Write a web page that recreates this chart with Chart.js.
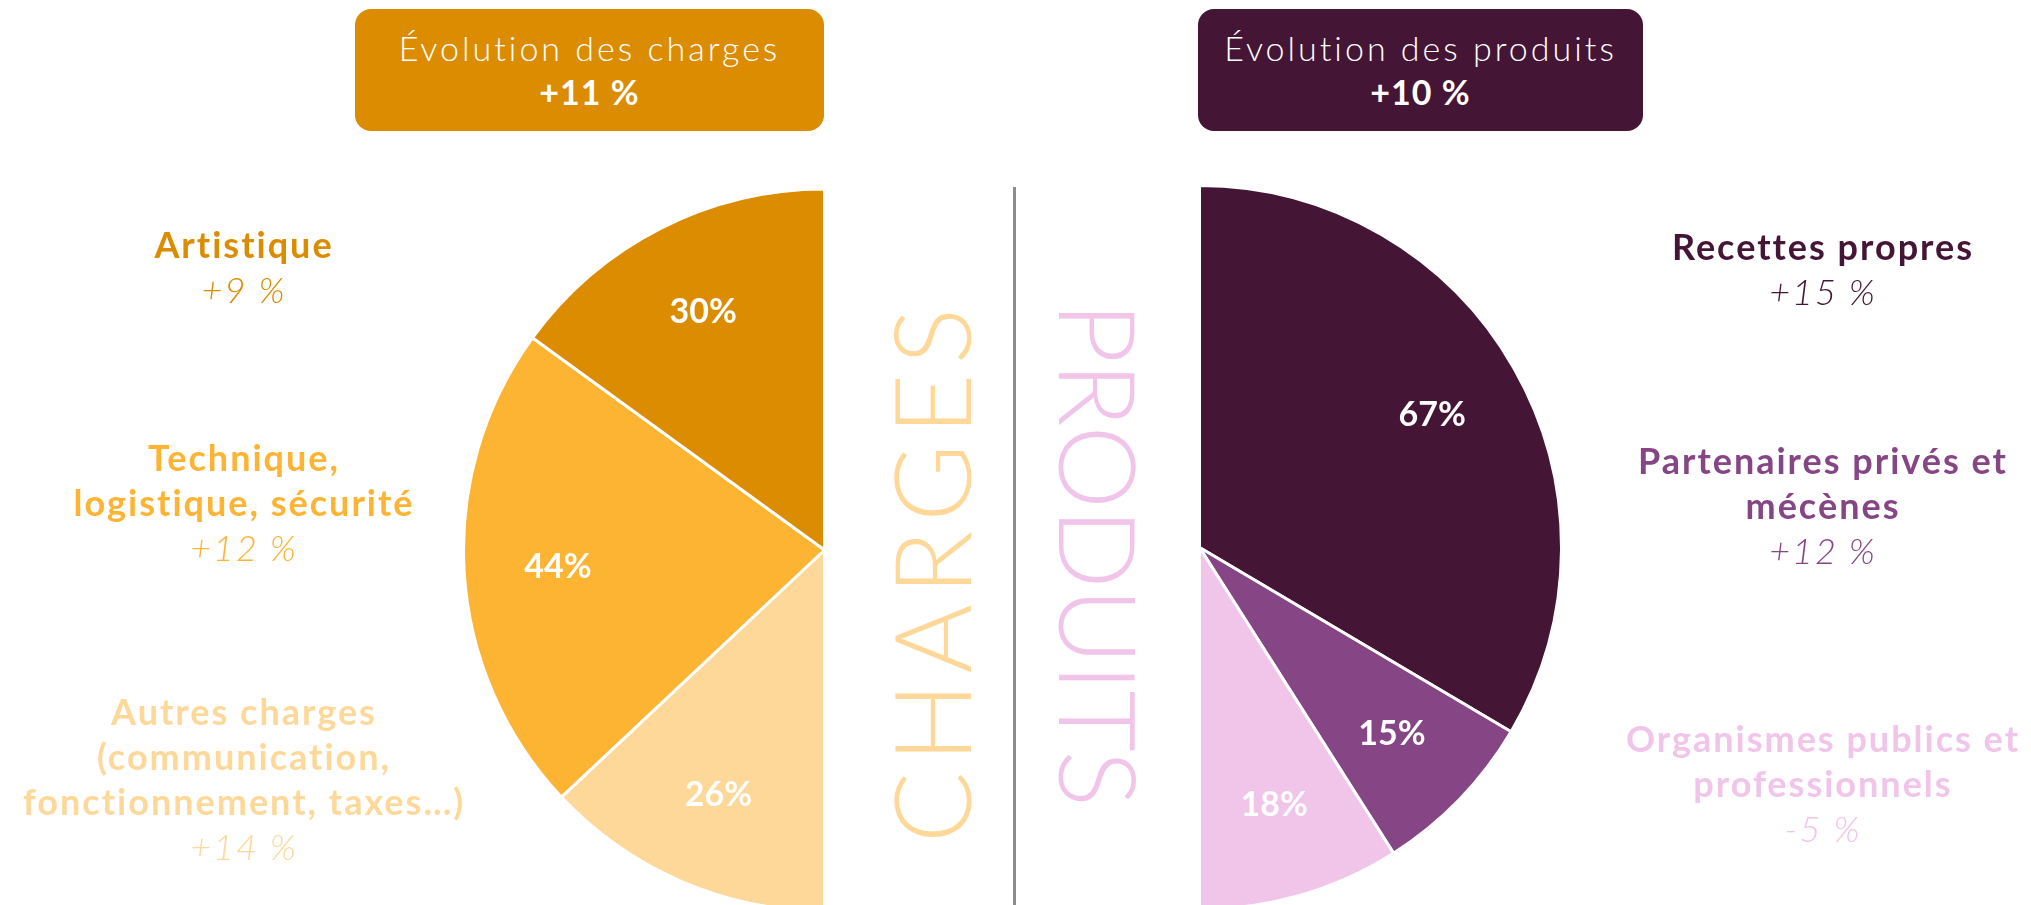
<!DOCTYPE html>
<html lang="fr">
<head>
<meta charset="utf-8">
<title>Charges et produits</title>
<script src="https://cdn.jsdelivr.net/npm/chart.js@4.4.0/dist/chart.umd.min.js"></script>
<style>
    html, body {
        margin: 0;
        padding: 0;
        background: #fff;
    }
    body {
        width: 2031px;
        height: 905px;
        overflow: hidden;
        position: relative;
        font-family: Lato, "Open Sans", sans-serif;
    }
    .box {
        position: absolute;
        top: 9px;
        height: 122px;
        border-radius: 16px;
        color: #fff;
        text-align: center;
        font-size: 34px;
        line-height: 44px;
        box-sizing: border-box;
        padding-top: 17px;
        font-weight: 300;
        letter-spacing: 3px;
    }
    .box b { font-weight: 700; letter-spacing: 1px; }
    .label {
        position: absolute;
        width: 560px;
        text-align: center;
        font-size: 36px;
        line-height: 45px;
        font-weight: 700;
        letter-spacing: 2px;
    }
    .label i {
        font-weight: 300;
        font-style: italic;
        display: block;
    }
    .vertical {
        position: absolute;
        font-size: 106px;
        line-height: 106px;
        font-weight: 300;
        white-space: nowrap;
    }
    .divider {
        position: absolute;
        left: 1013px;
        top: 187px;
        width: 3px;
        height: 720px;
        background: #8c8c8c;
    }
    .pie {
        position: absolute;
    }
</style>
</head>
<body>

<div class="box" id="box-charges" style="left:355px;width:469px;background:#db8c00;"></div>
<div class="box" id="box-produits" style="left:1198px;width:445px;background:#441534;"></div>

<div class="vertical" id="word-charges" style="color:#fed898;letter-spacing:9px;"></div>
<div class="vertical" id="word-produits" style="color:#f1c4ea;letter-spacing:-1px;"></div>
<div class="divider"></div>

<div class="pie" style="left:462px;top:186px;width:364px;height:728px;"><canvas id="chargesChart"></canvas></div>
<div class="pie" style="left:1198px;top:184px;width:365px;height:727px;"><canvas id="produitsChart"></canvas></div>

<div id="labels"></div>

<script>
// --- data ---
const chargesTitle = "Évolution des charges";
const chargesTotal = "+11 %";
const chargesCategories = [
    ["Artistique"],
    ["Technique,", "logistique, sécurité"],
    ["Autres charges", "(communication,", "fonctionnement, taxes…)"]
];
const chargesShares = [30, 44, 26];
const chargesChanges = ["+9 %", "+12 %", "+14 %"];
const chargesColors = ["#db8c00", "#fdb432", "#fed898"];

const produitsTitle = "Évolution des produits";
const produitsTotal = "+10 %";
const produitsCategories = [
    ["Recettes propres"],
    ["Partenaires privés et", "mécènes"],
    ["Organismes publics et", "professionnels"]
];
const produitsShares = [67, 15, 18];
const produitsChanges = ["+15 %", "+12 %", "-5 %"];
const produitsColors = ["#441534", "#864584", "#f1c4ea"];

// --- header boxes and big words ---
document.getElementById("box-charges").innerHTML = chargesTitle + "<br><b>" + chargesTotal + "</b>";
document.getElementById("box-produits").innerHTML = produitsTitle + "<br><b>" + produitsTotal + "</b>";

function placeWord(id, text, cx, cy, angle) {
    const el = document.getElementById(id);
    el.textContent = text;
    const w = el.offsetWidth, h = el.offsetHeight;
    el.style.left = (cx - w / 2) + "px";
    el.style.top = (cy - h / 2) + "px";
    el.style.transform = "rotate(" + angle + "deg)";
}
placeWord("word-charges", "CHARGES", 930, 571, -90);
placeWord("word-produits", "PRODUITS", 1100, 554, 90);

// --- side labels ---
const labelTops = {
    charges: [222, 435, 689],
    produits: [224, 438, 716]
};
function addLabels(categories, changes, colors, cx, tops) {
    const holder = document.getElementById("labels");
    categories.forEach((lines, i) => {
        const div = document.createElement("div");
        div.className = "label";
        div.style.left = (cx - 280) + "px";
        div.style.top = tops[i] + "px";
        div.style.color = colors[i];
        div.innerHTML = lines.join("<br>") + "<i>" + changes[i] + "</i>";
        holder.appendChild(div);
    });
}
addLabels(chargesCategories, chargesChanges, chargesColors, 244, labelTops.charges);
addLabels(produitsCategories, produitsChanges, produitsColors, 1823, labelTops.produits);

// --- percentage labels inside slices ---
const sliceLabels = {
    id: "sliceLabels",
    afterDatasetsDraw(chart) {
        const ctx = chart.ctx;
        const data = chart.data.datasets[0].data;
        ctx.save();
        ctx.fillStyle = "#fff";
        ctx.font = "bold 34px Lato";
        ctx.textAlign = "center";
        ctx.textBaseline = "middle";
        chart.getDatasetMeta(0).data.forEach((arc, i) => {
            const mid = (arc.startAngle + arc.endAngle) / 2;
            const r = arc.outerRadius * 0.74;
            ctx.fillText(data[i] + "%", arc.x + Math.cos(mid) * r, arc.y + Math.sin(mid) * r);
        });
        ctx.restore();
    }
};

function halfPie(canvasId, categories, shares, colors, rotation) {
    const ctx = document.getElementById(canvasId).getContext("2d");
    return new Chart(ctx, {
        type: "pie",
        data: {
            labels: categories.map(l => l.join(" ")),
            datasets: [{
                data: shares,
                backgroundColor: colors,
                borderColor: "#fff",
                borderWidth: 3,
                hoverOffset: 0
            }]
        },
        options: {
            responsive: true,
            maintainAspectRatio: false,
            animation: false,
            rotation: rotation,
            circumference: 180,
            layout: { padding: 0 },
            plugins: {
                legend: { display: false },
                tooltip: { enabled: false }
            },
            events: []
        },
        plugins: [sliceLabels]
    });
}

// left half: start at the bottom, clockwise up to the top -> reversed order
halfPie("chargesChart",
    chargesCategories.slice().reverse(),
    chargesShares.slice().reverse(),
    chargesColors.slice().reverse(),
    180);
halfPie("produitsChart", produitsCategories, produitsShares, produitsColors, 0);
</script>
</body>
</html>
